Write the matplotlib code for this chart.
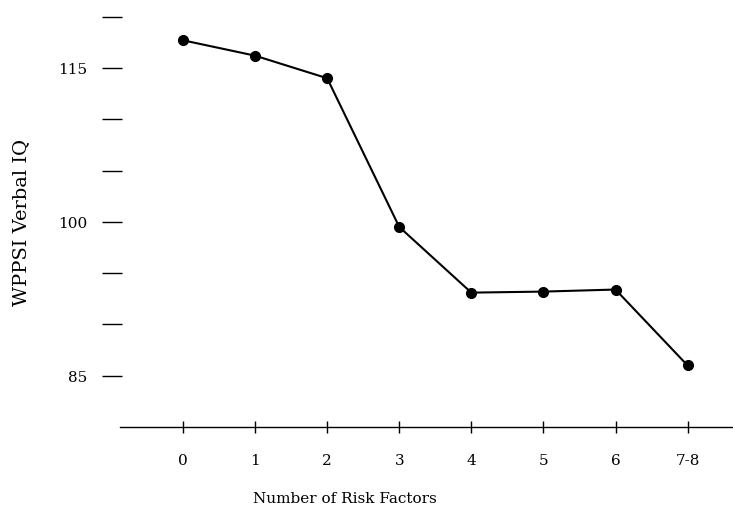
import matplotlib.pyplot as plt

# values
risk_factors = ['0', '1', '2', '3', '4', '5', '6', '7-8']
verbal_iq = [117.7, 116.2, 114.0, 99.5, 93.1, 93.2, 93.4, 86.0]
ytick_vals = [85, 90, 95, 100, 105, 110, 115, 120]
ytick_text = ['85', '', '', '100', '', '', '115', '']

plt.rcParams['font.family'] = ['DejaVu Serif']

fig = plt.figure(figsize=(7.33, 5.10), dpi=100)
ax = fig.add_axes([0.1528, 0.1608, 0.8472, 0.8045])

xpos = list(range(len(risk_factors)))
ax.plot(xpos, verbal_iq, color='black', linewidth=1.5, marker='o', markersize=7)

ax.set_xlim(-0.985, 7.63)
ax.set_ylim(80, 120)

ax.spines['top'].set_visible(False)
ax.spines['right'].set_visible(False)
ax.spines['left'].set_visible(False)
ax.spines['bottom'].set_bounds(-0.87, 7.63)
ax.spines['bottom'].set_linewidth(1.0)

ax.set_xticks(xpos)
ax.set_xticklabels(risk_factors, fontsize=11)
ax.set_yticks(ytick_vals)
ax.set_yticklabels(ytick_text, fontsize=11)
ax.tick_params(axis='y', direction='inout', length=15, width=1.0, pad=10, left=True)
ax.tick_params(axis='x', direction='inout', length=9, width=1.0, pad=14)

ax.set_ylabel('WPPSI Verbal IQ', fontsize=14)
ax.yaxis.set_label_coords(-0.132, 0.5)
ax.set_xlabel('Number of Risk Factors', fontsize=11)
ax.xaxis.set_label_coords(0.375, -0.155)

fig.savefig('out.png', dpi=100)
